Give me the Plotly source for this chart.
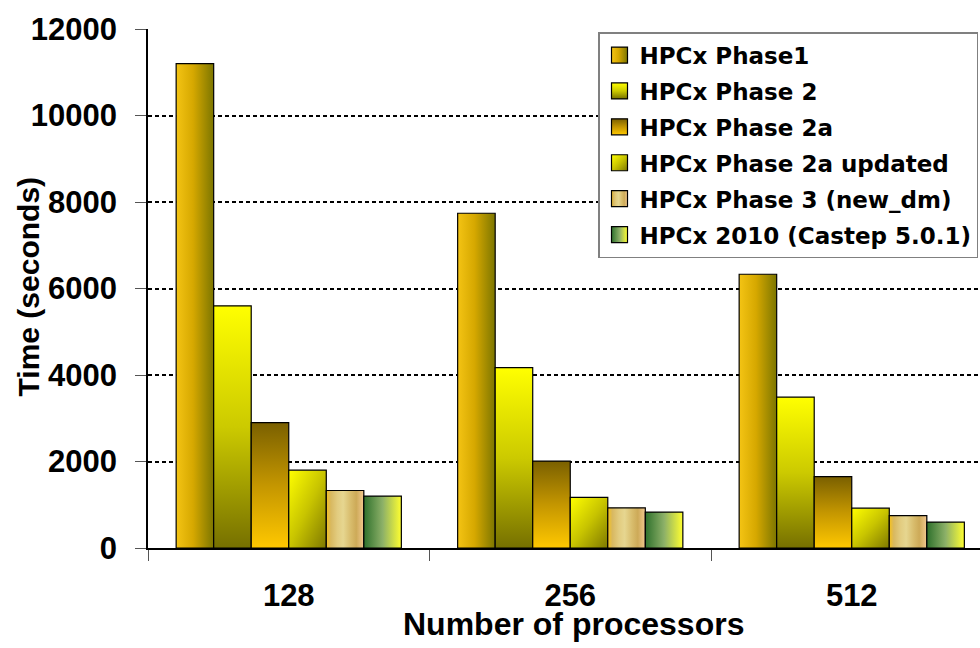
import plotly.graph_objects as go

# Processor counts (x categories)
processors = ["128", "256", "512"]

# Run times in seconds for each machine configuration
series_names = [
    "HPCx Phase1",
    "HPCx Phase 2",
    "HPCx Phase 2a",
    "HPCx Phase 2a updated",
    "HPCx Phase 3 (new_dm)",
    "HPCx 2010 (Castep 5.0.1)",
]
phase1 = [11200, 7740, 6330]
phase2 = [5600, 4170, 3490]
phase2a = [2900, 2010, 1650]
phase2a_updated = [1800, 1170, 920]
phase3_new_dm = [1330, 930, 750]
hpcx_2010 = [1200, 830, 600]

y_ticks = [0, 2000, 4000, 6000, 8000, 10000, 12000]

series_values = [phase1, phase2, phase2a, phase2a_updated, phase3_new_dm, hpcx_2010]
# flat fallback colours (gradients are applied on top in the page script)
flat_colors = ["#C8A000", "#C8C800", "#C09000", "#C8C000", "#E0C070", "#90B050"]

ARIAL = "Liberation Sans, Arial, sans-serif"
LEGEND_FONT = "DejaVu Sans, Verdana, sans-serif"

fig = go.Figure()
for i, (name, vals) in enumerate(zip(series_names, series_values)):
    fig.add_trace(go.Bar(
        x=processors,
        y=vals,
        name=name,
        legendgroup=name,
        marker=dict(color=flat_colors[i], line=dict(color="#000000", width=1.2)),
        hoverinfo="x+y+name",
    ))

fig.update_layout(
    width=980,
    height=648,
    margin=dict(l=148, r=0, t=29, b=100),
    paper_bgcolor="white",
    plot_bgcolor="white",
    barmode="group",
    bargap=0.2,
    bargroupgap=0,
    showlegend=True,
    legend=dict(
        x=0.9976, y=0.994, xanchor="right", yanchor="top",
        bgcolor="white",
        bordercolor="#808080",
        borderwidth=1.5,
        font=dict(family=LEGEND_FONT, size=23, color="#000000", weight="bold"),
        traceorder="grouped",
        tracegroupgap=3,
    ),
    xaxis=dict(
        type="category",
        range=[-0.5, 2.4556],
        tickson="boundaries",
        ticks="outside",
        ticklen=11,
        tickwidth=1.2,
        tickcolor="#555555",
        showline=True,
        linecolor="#000000",
        linewidth=1.5,
        showgrid=False,
        tickfont=dict(family=ARIAL, size=31, color="#000000", weight="bold"),
        ticklabelstandoff=19,
    ),
    yaxis=dict(
        range=[0, 12000],
        tickvals=y_ticks,
        ticktext=[str(v) for v in y_ticks],
        ticks="outside",
        ticklen=11,
        tickwidth=1.2,
        tickcolor="#555555",
        showline=True,
        linecolor="#000000",
        linewidth=1.5,
        showgrid=True,
        gridcolor="#000000",
        gridwidth=2,
        griddash="4px,3px",
        zeroline=False,
        tickfont=dict(family=ARIAL, size=31, color="#000000", weight="bold"),
        ticklabelstandoff=12,
    ),
    annotations=[
        dict(
            text="Time (seconds)", textangle=-90,
            xref="paper", yref="paper", x=-0.1442, y=0.504,
            xanchor="center", yanchor="middle", showarrow=False,
            font=dict(family=ARIAL, size=30, color="#000000", weight="bold"),
        ),
        dict(
            text="Number of processors",
            xref="paper", yref="paper", x=0.511, y=-0.146,
            xanchor="center", yanchor="middle", showarrow=False,
            font=dict(family=ARIAL, size=32, color="#000000", weight="bold"),
        ),
    ],
)

# Gradient fills for the bars and their legend swatches
gradient_script = """
var gd = document.getElementById('{plot_id}');
var NS = 'http://www.w3.org/2000/svg';
var grads = [
  {id:'grad-p1', x1:0, y1:0, x2:1, y2:0, stops:[[0,'#F4C414'],[0.45,'#D6A800'],[1,'#7C7600']]},
  {id:'grad-p2', x1:0, y1:0, x2:0, y2:1, stops:[[0,'#FFFF00'],[0.5,'#CCCA00'],[1,'#767000']]},
  {id:'grad-p2a', x1:0, y1:0, x2:0, y2:1, stops:[[0,'#7A6000'],[0.5,'#C49600'],[1,'#FFC800']]},
  {id:'grad-p2u', x1:0, y1:0, x2:1, y2:1, stops:[[0,'#FFFF00'],[0.5,'#C8C400'],[1,'#7E7800']]},
  {id:'grad-p3', x1:0, y1:0, x2:1, y2:0, stops:[[0,'#F7C21A'],[0.12,'#D8B860'],[0.3,'#E2CC80'],[0.45,'#E6D690'],[0.65,'#D8BC6C'],[0.8,'#CDAA58'],[1,'#F2C890']]},
  {id:'grad-2010', x1:0, y1:0, x2:1, y2:0, stops:[[0,'#2E702C'],[0.5,'#8CB068'],[1,'#FFFF30']]}
];
function ensureDefs() {
  var svg = gd.querySelector('svg.main-svg');
  if (!svg) return;
  var defs = svg.querySelector('defs');
  if (!defs) { defs = document.createElementNS(NS, 'defs'); svg.insertBefore(defs, svg.firstChild); }
  grads.forEach(function (g) {
    if (document.getElementById(g.id)) return;
    var lg = document.createElementNS(NS, 'linearGradient');
    lg.setAttribute('id', g.id);
    lg.setAttribute('x1', g.x1); lg.setAttribute('y1', g.y1);
    lg.setAttribute('x2', g.x2); lg.setAttribute('y2', g.y2);
    g.stops.forEach(function (s) {
      var st = document.createElementNS(NS, 'stop');
      st.setAttribute('offset', s[0]);
      st.setAttribute('stop-color', s[1]);
      lg.appendChild(st);
    });
    defs.appendChild(lg);
  });
}
function paint() {
  ensureDefs();
  gd.querySelectorAll('.barlayer .trace').forEach(function (t, i) {
    if (!grads[i]) return;
    t.querySelectorAll('path').forEach(function (p) { p.style.fill = 'url(#' + grads[i].id + ')'; });
  });
  gd.querySelectorAll('.legend .traces').forEach(function (t, i) {
    if (!grads[i]) return;
    t.querySelectorAll('.legendpoints path').forEach(function (p) {
      p.style.fill = 'url(#' + grads[i].id + ')';
      p.setAttribute('d', 'M8,8H-8V-8H8Z');
    });
  });
}
paint();
gd.on('plotly_afterplot', paint);
"""

fig.write_html("out.html", post_script=gradient_script)
